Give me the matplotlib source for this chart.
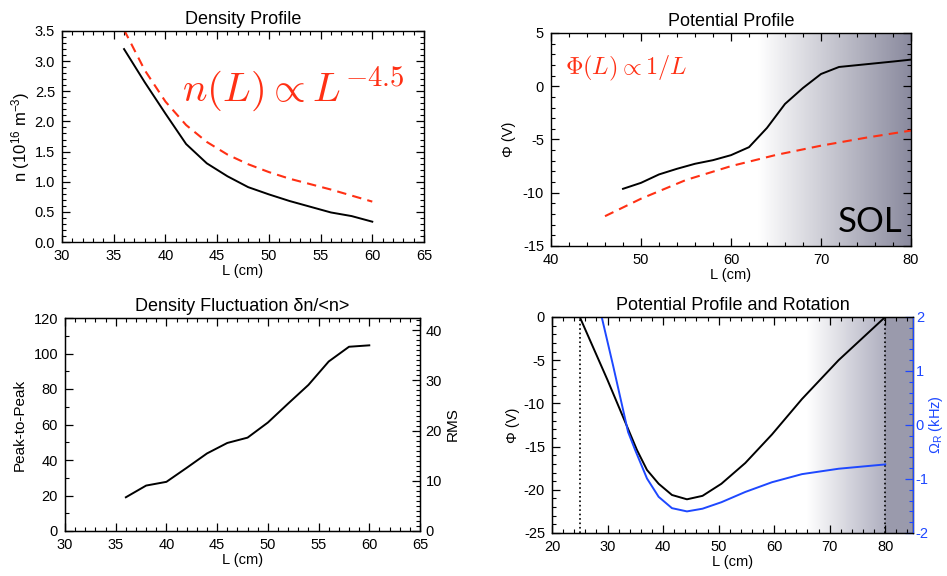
import numpy as np
import matplotlib
matplotlib.use('Agg')
import matplotlib.pyplot as plt
from matplotlib.colors import LinearSegmentedColormap
from matplotlib.ticker import MultipleLocator

plt.rcParams['font.family'] = ['Liberation Sans', 'DejaVu Sans']
plt.rcParams['mathtext.fontset'] = 'custom'
plt.rcParams['mathtext.rm'] = 'Liberation Sans'
plt.rcParams['mathtext.it'] = 'Liberation Sans:italic'
plt.rcParams['font.size'] = 10.5
plt.rcParams['axes.unicode_minus'] = False

RED = '#ff3014'
BLUE = '#1e48ff'

# ---------------- data ----------------
# density profile
L_dens = [36, 38, 40, 42, 44, 46, 48, 50, 52, 54, 56, 58, 60]
n_dens = [3.20, 2.65, 2.13, 1.625, 1.305, 1.09, 0.91, 0.79, 0.68, 0.585, 0.49, 0.43, 0.337]
L_nfit = [36, 38, 40, 42, 44, 46, 48, 50, 52, 54, 56, 58, 60]
n_fit = [3.52, 2.85, 2.33, 1.94, 1.66, 1.45, 1.29, 1.16, 1.05, 0.96, 0.87, 0.77, 0.67]

# potential profile
L_pot = [48, 50, 52, 54, 56, 58, 60, 62, 64, 66, 68, 70, 72, 74, 76, 78, 80]
phi_pot = [-9.63, -9.07, -8.28, -7.75, -7.28, -6.94, -6.47, -5.72, -3.91, -1.66,
           -0.16, 1.15, 1.81, 1.98, 2.15, 2.32, 2.5]
L_pfit = [46, 50, 55, 60, 65, 70, 75, 80]
phi_fit = [-12.2, -10.56, -8.8, -7.5, -6.45, -5.58, -4.83, -4.16]

# density fluctuation
L_fluc = [36, 38, 40, 42, 44, 46, 48, 50, 52, 54, 56, 58, 60]
p2p = [19.0, 25.6, 27.7, 35.6, 43.7, 49.6, 52.6, 61.1, 71.8, 82.3, 95.5, 103.8, 104.6]

# potential profile and rotation
L_rot = [25, 30, 35.3, 37.1, 39.2, 41.6, 44.3, 47.1, 50.5, 54.8, 59.6, 65, 71.6, 80]
phi_rot = [0, -7.3, -15.4, -17.7, -19.3, -20.6, -21.1, -20.7, -19.3, -16.9, -13.6,
           -9.5, -5.0, 0]
L_omega = [28.95, 31, 33.7, 35, 37.1, 39.2, 41.6, 44.3, 47.1, 50.5, 54.8, 59.6, 65, 71.6, 80]
omega = [2.0, 1.1, -0.13, -0.47, -0.99, -1.33, -1.54, -1.6, -1.55, -1.43, -1.24,
         -1.06, -0.91, -0.81, -0.73]

W, H = 947, 576
fig = plt.figure(figsize=(W / 100, H / 100), dpi=100)


def place(l, r, t, b):
    return fig.add_axes([l / W, 1 - b / H, (r - l) / W, (b - t) / H])


def idl(ax, xmaj, xmin, ymaj, ymin, right=True):
    ax.xaxis.set_major_locator(MultipleLocator(xmaj))
    ax.xaxis.set_minor_locator(MultipleLocator(xmin))
    ax.yaxis.set_major_locator(MultipleLocator(ymaj))
    ax.yaxis.set_minor_locator(MultipleLocator(ymin))
    ax.tick_params(which='both', direction='in', top=True, right=right, pad=5)
    ax.tick_params(which='major', length=6, width=0.9)
    ax.tick_params(which='minor', length=3, width=0.8)
    for s in ax.spines.values():
        s.set_linewidth(1.0)


def shade(ax, x0, x1, y0, y1, c1):
    cmap = LinearSegmentedColormap.from_list('g', ['white', c1])
    grad = np.linspace(0, 1, 256).reshape(1, -1)
    ax.imshow(grad, extent=[x0, x1, y0, y1], aspect='auto', cmap=cmap,
              zorder=0, interpolation='bicubic')


############################ Density Profile ############################
ax1 = place(62, 424, 31, 242)
ax1.plot(L_dens, n_dens, color='black', lw=1.4)
ax1.plot(L_nfit, n_fit, color=RED, lw=1.5, dashes=(4.5, 3))
ax1.text(41.65, 2.33, r'$n(L) \propto L^{-4.5}$', color=RED, fontsize=29.5,
         math_fontfamily='cm', va='baseline')
ax1.set_xlim(30, 65)
ax1.set_ylim(0, 3.5)
idl(ax1, 5, 1, 0.5, 0.1)
ax1.yaxis.set_major_formatter(plt.FormatStrFormatter('%.1f'))
ax1.set_title('Density Profile', fontsize=13, pad=5)
ax1.set_xlabel('L (cm)', labelpad=1)
ax1.set_ylabel('n (10$^{16}$ m$^{-3}$)', fontsize=12, labelpad=2)

########################### Potential Profile ###########################
ax2 = place(551, 911, 33, 246)
shade(ax2, 63, 80, -15, 5, '#8a8a9e')
ax2.plot(L_pot, phi_pot, color='black', lw=1.4)
ax2.plot(L_pfit, phi_fit, color=RED, lw=1.5, dashes=(4.5, 3))
ax2.text(41.6, 1.09, r'$\Phi(L) \propto 1/L$', color=RED, fontsize=17.5,
         math_fontfamily='cm', va='baseline')
ax2.text(79.1, -13.65, 'SOL', fontsize=25, family=['Lato', 'DejaVu Sans'],
         ha='right', va='baseline')
ax2.set_xlim(40, 80)
ax2.set_ylim(-15, 5)
idl(ax2, 10, 2, 5, 1)
ax2.set_title('Potential Profile', fontsize=13, pad=5)
ax2.set_xlabel('L (cm)', labelpad=1)
ax2.set_ylabel('Φ (V)', labelpad=5)

######################### Density Fluctuation ###########################
ax3 = place(65, 420, 318, 531)
ax3.plot(L_fluc, p2p, color='black', lw=1.4)
ax3.set_xlim(30, 65)
ax3.set_ylim(0, 120)
idl(ax3, 5, 1, 20, 10, right=False)
ax3.set_title('Density Fluctuation δn/<n>', fontsize=13, pad=5)
ax3.set_xlabel('L (cm)', labelpad=1)
ax3.set_ylabel('Peak-to-Peak', fontsize=11, labelpad=5)
ax3r = ax3.twinx()
ax3r.set_ylim(0, 120 / (2 * np.sqrt(2)))
ax3r.yaxis.set_major_locator(MultipleLocator(10))
ax3r.yaxis.set_minor_locator(MultipleLocator(1))
ax3r.tick_params(which='both', direction='in', pad=4)
ax3r.tick_params(which='major', length=6, width=0.9)
ax3r.tick_params(which='minor', length=3, width=0.8)
ax3r.set_ylabel('RMS', fontsize=11, rotation=90, labelpad=3)

#################### Potential Profile and Rotation #####################
ax4 = place(552, 913, 317, 533)
shade(ax4, 66, 80, -25, 0, '#b0b0c0')
ax4.axvspan(80, 85, color='#9a9aac', lw=0, zorder=0)
ax4.plot([25, 25], [-25, 0], color='black', lw=1.2, ls=':')
ax4.plot([80, 80], [-25, 0], color='black', lw=1.2, ls=':')
ax4.plot(L_rot, phi_rot, color='black', lw=1.4)
ax4.set_xlim(20, 85)
ax4.set_ylim(-25, 0)
idl(ax4, 10, 2, 5, 1, right=False)
ax4.set_title('Potential Profile and Rotation', fontsize=13, pad=5)
ax4.set_xlabel('L (cm)', labelpad=1)
ax4.set_ylabel('Φ (V)', labelpad=3)
ax4r = ax4.twinx()
ax4r.plot(L_omega, omega, color=BLUE, lw=1.4)
ax4r.set_ylim(-2, 2)
ax4r.yaxis.set_major_locator(MultipleLocator(1))
ax4r.yaxis.set_minor_locator(MultipleLocator(0.2))
ax4r.tick_params(which='both', direction='in', pad=2, colors=BLUE)
ax4r.tick_params(which='major', length=6, width=0.9)
ax4r.tick_params(which='minor', length=3, width=0.8)
ax4r.spines['right'].set_color(BLUE)
ax4r.set_ylabel(r'$\Omega_\mathrm{R}$ (kHz)', color=BLUE, fontsize=10.5,
                labelpad=-1)

fig.savefig('out.png', dpi=100)
